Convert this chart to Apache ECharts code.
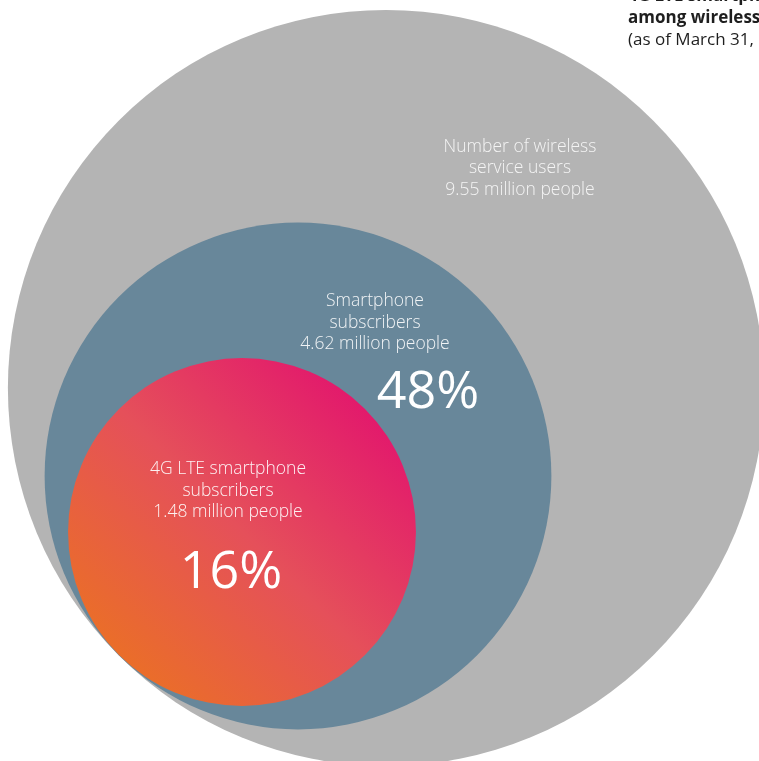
<!DOCTYPE html>
<html>
<head>
<meta charset="utf-8">
<style>
  html, body { margin: 0; padding: 0; background: #ffffff; }
  #chart { width: 759px; height: 761px; }
</style>
<script src="https://cdn.jsdelivr.net/npm/echarts@6/dist/echarts.min.js"></script>
</head>
<body>
<div id="chart"></div>
<script>
// Subscriber groups, outermost first
const groups = ['Number of wireless\nservice users', 'Smartphone\nsubscribers', '4G LTE smartphone\nsubscribers'];
const subscribers = [9.55, 4.62, 1.48];          // million people
const shareOfUsers = ['', '48%', '16%'];         // share of all wireless service users

const titleLines = ['4G LTE smartphone penetration', 'among wireless service users', '(as of March 31, 2015)'];

// Layout in page units (the grid maps one unit to one pixel)
const circleCenters = [[386, 388], [298, 476], [242, 532]];
const captionCenters = [[520, 168.5], [375, 323], [228, 491]];
const shareCenters = [[0, 0], [428, 393], [231, 573]];
const RADIUS_BASE = 136.5;
const RADIUS_PER_MILLION = 25.3;

const FONT = '"Open Sans", "Noto Sans", sans-serif';

const fills = [
  '#b4b4b4',
  '#68879a',
  {
    type: 'linear', x: 0.08, y: 0.92, x2: 0.92, y2: 0.08,
    colorStops: [
      { offset: 0, color: '#eb7320' },
      { offset: 0.5, color: '#e5505a' },
      { offset: 1, color: '#e2106f' }
    ]
  }
];
const captionColors = ['rgba(255,255,255,0.85)', 'rgba(255,255,255,0.9)', 'rgba(255,255,255,0.92)'];

const seriesData = subscribers.map((v, i) => ({ value: [circleCenters[i][0], circleCenters[i][1], v], idx: i }));

const chart = echarts.init(document.getElementById('chart'), null, { renderer: 'canvas' });

chart.setOption({
  animation: false,
  grid: { left: 0, top: 0, right: 0, bottom: 0 },
  xAxis: { type: 'value', min: 0, max: 759, show: false },
  yAxis: { type: 'value', min: 0, max: 761, inverse: true, show: false },
  series: [{
    type: 'custom',
    coordinateSystem: 'cartesian2d',
    clip: false,
    data: seriesData,
    renderItem: function (params, api) {
      const i = params.dataIndex;
      const c = api.coord([api.value(0), api.value(1)]);
      const r = api.size([RADIUS_BASE + RADIUS_PER_MILLION * api.value(2), 0])[0];
      const cap = api.coord(captionCenters[i]);
      const children = [
        { type: 'circle', shape: { cx: c[0], cy: c[1], r: r }, style: { fill: fills[i] } },
        {
          type: 'text', x: cap[0], y: cap[1],
          style: {
            text: groups[i] + '\n' + subscribers[i].toFixed(2) + ' million people',
            fill: captionColors[i], font: '300 17.5px ' + FONT,
            align: 'center', verticalAlign: 'middle', lineHeight: 21.5
          }
        }
      ];
      if (shareOfUsers[i]) {
        const s = api.coord(shareCenters[i]);
        children.push({
          type: 'text', x: s[0], y: s[1],
          style: {
            text: shareOfUsers[i], fill: '#ffffff', font: '400 52px ' + FONT,
            align: 'center', verticalAlign: 'middle'
          }
        });
      }
      return { type: 'group', children: children };
    }
  }],
  graphic: [{
    type: 'group', left: 628, top: -12,
    children: titleLines.map((t, k) => ({
      type: 'text', x: 0, y: k * 22,
      style: {
        text: t, fill: '#1e1e1e',
        font: (k < 2 ? 'bold ' : '') + '17px ' + FONT
      }
    }))
  }]
});
</script>
</body>
</html>
